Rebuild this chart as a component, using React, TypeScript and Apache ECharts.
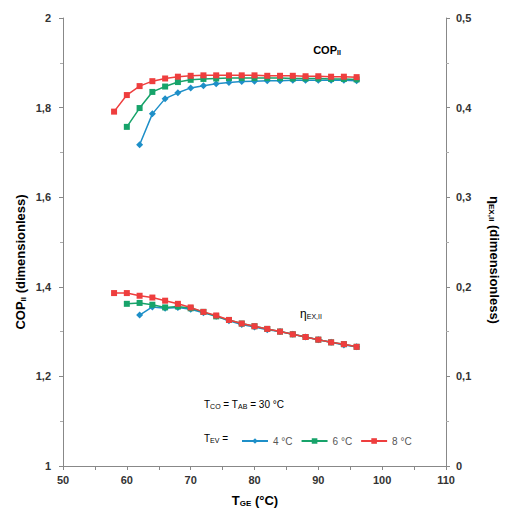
import React, { useEffect, useRef } from "react";
import * as echarts from "echarts";

const tempRed = [58, 60, 62, 64, 66, 68, 70, 72, 74, 76, 78, 80, 82, 84, 86, 88, 90, 92, 94, 96];
const tempGreen = [60, 62, 64, 66, 68, 70, 72, 74, 76, 78, 80, 82, 84, 86, 88, 90, 92, 94, 96];
const tempBlue = [62, 64, 66, 68, 70, 72, 74, 76, 78, 80, 82, 84, 86, 88, 90, 92, 94, 96];

const copRed = [1.791, 1.828, 1.848, 1.859, 1.865, 1.869, 1.871, 1.872, 1.872, 1.872, 1.872, 1.872, 1.871, 1.871, 1.871, 1.87, 1.87, 1.869, 1.869, 1.868];
const copGreen = [1.757, 1.799, 1.835, 1.847, 1.857, 1.862, 1.864, 1.865, 1.866, 1.866, 1.866, 1.866, 1.866, 1.865, 1.865, 1.865, 1.864, 1.864, 1.863];
const copBlue = [1.717, 1.786, 1.82, 1.833, 1.844, 1.849, 1.853, 1.856, 1.858, 1.859, 1.86, 1.86, 1.861, 1.861, 1.861, 1.861, 1.861, 1.86];

const etaRed = [0.193, 0.193, 0.19, 0.188, 0.1845, 0.181, 0.177, 0.172, 0.168, 0.163, 0.159, 0.156, 0.153, 0.15, 0.147, 0.144, 0.141, 0.138, 0.136, 0.133];
const etaGreen = [0.181, 0.182, 0.18, 0.177, 0.178, 0.176, 0.172, 0.167, 0.163, 0.159, 0.156, 0.153, 0.15, 0.147, 0.144, 0.141, 0.138, 0.136, 0.133];
const etaBlue = [0.1685, 0.1775, 0.176, 0.177, 0.175, 0.171, 0.167, 0.162, 0.158, 0.155, 0.152, 0.15, 0.147, 0.144, 0.141, 0.138, 0.135, 0.133];

const seriesNames = ["4 °C", "6 °C", "8 °C"];
const colors = ["#1e8fc8", "#17a36a", "#ee3e3e"];
const symbols = ["diamond", "rect", "rect"];

const FONT = "Liberation Sans, Arial, sans-serif";

function pairs(xs: number[], ys: number[]) {
  return xs.map((x, i) => [x, ys[i]]);
}

export default function App() {
  const ref = useRef<HTMLDivElement>(null);
  useEffect(() => {
    if (!ref.current) return;
    const chart = echarts.init(ref.current, null, { renderer: "svg" });
    const temps = [tempBlue, tempGreen, tempRed];
    const cops = [copBlue, copGreen, copRed];
    const etas = [etaBlue, etaGreen, etaRed];
    const series: any[] = [];
    for (let k = 0; k < 3; k++) {
      const common = {
        type: "line",
        name: seriesNames[k],
        symbol: symbols[k],
        symbolSize: k === 0 ? 7 : 6,
        color: colors[k],
        lineStyle: { width: 1.5, color: colors[k] },
        itemStyle: { color: colors[k] },
        z: 2 + k,
      };
      series.push({ ...common, yAxisIndex: 0, data: pairs(temps[k], cops[k]) });
      series.push({ ...common, yAxisIndex: 1, data: pairs(temps[k], etas[k]) });
    }
    const axisLine = { show: true, lineStyle: { color: "#888", width: 1 } };
    const labelStyle = { color: "#333", fontWeight: "bold" as const, fontSize: 11, fontFamily: FONT };
    const sub = { fontSize: 8, fontFamily: FONT, fontWeight: "bold" as const, color: "#222", padding: [6, 0, 0, 0] };
    chart.setOption({
      animation: false,
      backgroundColor: "#fff",
      grid: { left: 63, right: 61, top: 18, bottom: 46 },
      legend: {
        data: seriesNames,
        left: 236,
        top: 431,
        itemWidth: 26,
        itemHeight: 7,
        itemGap: 8,
        textStyle: { fontSize: 10, color: "#555", fontFamily: FONT },
      },
      xAxis: {
        type: "value",
        min: 50,
        max: 110,
        interval: 10,
        axisLine,
        axisTick: { show: true, length: 4, lineStyle: { color: "#888" } },
        minorTick: { show: true, splitNumber: 2, length: 4, lineStyle: { color: "#888" } },
        splitLine: { show: false },
        axisLabel: { ...labelStyle, margin: 8 },
      },
      yAxis: [
        {
          type: "value",
          min: 1,
          max: 2,
          interval: 0.2,
          position: "left",
          axisLine,
          axisTick: { show: true, length: 4, lineStyle: { color: "#888" } },
          minorTick: { show: true, splitNumber: 2, length: 3, lineStyle: { color: "#aaa" } },
          splitLine: { show: false },
          axisLabel: {
            ...labelStyle,
            margin: 12,
            formatter: (v: number) => String(Math.round(v * 10) / 10).replace(".", ","),
          },
        },
        {
          type: "value",
          min: 0,
          max: 0.5,
          interval: 0.1,
          position: "right",
          axisLine,
          axisTick: { show: true, length: 4, lineStyle: { color: "#888" } },
          minorTick: { show: true, splitNumber: 2, length: 3, lineStyle: { color: "#aaa" } },
          splitLine: { show: false },
          axisLabel: {
            ...labelStyle,
            margin: 10,
            formatter: (v: number) => String(Math.round(v * 10) / 10).replace(".", ","),
          },
        },
      ],
      graphic: [
        {
          type: "text",
          x: 20,
          y: 262,
          rotation: Math.PI / 2,
          style: {
            text: "{a|COP}{s|II}{a| (dimensionless)}",
            align: "center",
            verticalAlign: "middle",
            rich: {
              a: { fontSize: 13, fontWeight: "bold", fontFamily: FONT, color: "#222" },
              s: sub,
            },
          },
        },
        {
          type: "text",
          x: 494,
          y: 260,
          rotation: -Math.PI / 2,
          style: {
            text: "{a|η}{s|EX,II}{a| (dimensionless)}",
            align: "center",
            verticalAlign: "middle",
            rich: {
              a: { fontSize: 13, fontWeight: "bold", fontFamily: FONT, color: "#222" },
              s: sub,
            },
          },
        },
        {
          type: "text",
          x: 255,
          y: 500,
          style: {
            text: "{a|T}{s|GE}{a| (°C)}",
            align: "center",
            verticalAlign: "middle",
            rich: {
              a: { fontSize: 13, fontWeight: "bold", fontFamily: FONT, color: "#222" },
              s: sub,
            },
          },
        },
        {
          type: "text",
          x: 327,
          y: 50,
          style: {
            text: "{a|COP}{s|II}",
            align: "center",
            verticalAlign: "middle",
            rich: {
              a: { fontSize: 11, fontWeight: "bold", fontFamily: FONT, color: "#222" },
              s: { ...sub, fontSize: 7, padding: [5, 0, 0, 0] },
            },
          },
        },
        {
          type: "text",
          x: 311,
          y: 314,
          style: {
            text: "{a|η}{s|EX,II}",
            align: "center",
            verticalAlign: "middle",
            rich: {
              a: { fontSize: 12, fontFamily: FONT, color: "#222" },
              s: { fontSize: 7, fontFamily: FONT, color: "#222", padding: [5, 0, 0, 0] },
            },
          },
        },
        {
          type: "text",
          x: 204,
          y: 404,
          style: {
            text: "{a|T}{s|CO}{a| = T}{s|AB}{a| = 30 °C}",
            align: "left",
            verticalAlign: "middle",
            rich: {
              a: { fontSize: 10, fontFamily: FONT, color: "#333" },
              s: { fontSize: 7, fontFamily: FONT, color: "#333", padding: [4, 0, 0, 0] },
            },
          },
        },
        {
          type: "text",
          x: 204,
          y: 438,
          style: {
            text: "{a|T}{s|EV}{a| =}",
            align: "left",
            verticalAlign: "middle",
            rich: {
              a: { fontSize: 10, fontFamily: FONT, color: "#333" },
              s: { fontSize: 7, fontFamily: FONT, color: "#333", padding: [4, 0, 0, 0] },
            },
          },
        },
      ],
      series,
    });
    return () => chart.dispose();
  }, []);
  return <div ref={ref} style={{ width: 507, height: 512, position: "absolute", left: 0, top: 0 }} />;
}
